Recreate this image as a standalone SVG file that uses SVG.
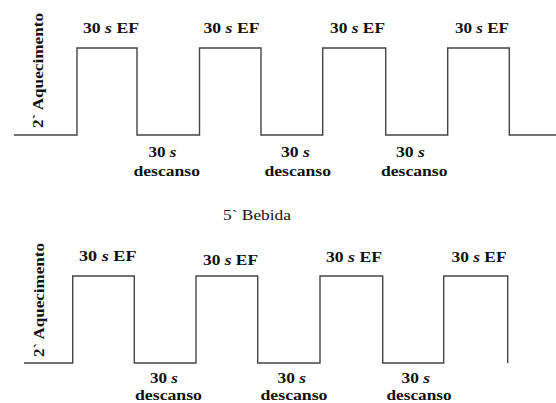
<svg xmlns="http://www.w3.org/2000/svg" width="556" height="403" viewBox="0 0 556 403">
  <style>
    .wave { fill: none; stroke: #444; stroke-width: 1.4; }
    .lbl { font-family: 'Liberation Serif', 'Times New Roman', serif; font-size: 14px; font-weight: bold; fill: #111; }
    .reg { font-weight: normal; }
    .it { font-style: italic; }
  </style>
  <rect width="556" height="403" fill="#fff"/>

  <!-- connectors: the two square-wave timelines -->
  <g id="connectors">
    <path id="wave-top" class="wave" d="M14,135 H77 V48 H137 V135 H199.5 V48 H261 V135 H322.7 V48 H385.7 V135 H447.7 V48 H509.3 V135 H556"/>
    <path id="wave-bottom" class="wave" d="M24,363 H72.7 V276 H134.3 V363 H196 V276 H257.7 V363 H320 V276 H382.7 V363 H443.7 V276 H507.7 V363"/>
  </g>

  <!-- first session -->
  <g id="warmup-1">
    <text class="lbl" transform="translate(43,128) rotate(-90)" textLength="115" lengthAdjust="spacingAndGlyphs">2` Aquecimento</text>
  </g>
  <g id="ef-1a"><text class="lbl" x="83" y="33" textLength="56" lengthAdjust="spacingAndGlyphs">30 <tspan class="it">s</tspan> EF</text></g>
  <g id="ef-1b"><text class="lbl" x="203.5" y="33" textLength="56" lengthAdjust="spacingAndGlyphs">30 <tspan class="it">s</tspan> EF</text></g>
  <g id="ef-1c"><text class="lbl" x="330" y="33" textLength="55" lengthAdjust="spacingAndGlyphs">30 <tspan class="it">s</tspan> EF</text></g>
  <g id="ef-1d"><text class="lbl" x="455" y="33" textLength="54" lengthAdjust="spacingAndGlyphs">30 <tspan class="it">s</tspan> EF</text></g>

  <g id="rest-1a">
    <text class="lbl" x="148.5" y="157" textLength="28" lengthAdjust="spacingAndGlyphs">30 <tspan class="it">s</tspan></text>
    <text class="lbl" x="133.5" y="175.5" textLength="66.5" lengthAdjust="spacingAndGlyphs">descanso</text>
  </g>
  <g id="rest-1b">
    <text class="lbl" x="281" y="157" textLength="29" lengthAdjust="spacingAndGlyphs">30 <tspan class="it">s</tspan></text>
    <text class="lbl" x="264.5" y="175.5" textLength="66.5" lengthAdjust="spacingAndGlyphs">descanso</text>
  </g>
  <g id="rest-1c">
    <text class="lbl" x="396" y="157" textLength="29" lengthAdjust="spacingAndGlyphs">30 <tspan class="it">s</tspan></text>
    <text class="lbl" x="381" y="175.5" textLength="66.5" lengthAdjust="spacingAndGlyphs">descanso</text>
  </g>

  <!-- break between sessions -->
  <g id="drink">
    <text class="lbl reg" x="223" y="220" textLength="68" lengthAdjust="spacingAndGlyphs">5` Bebida</text>
  </g>

  <!-- second session -->
  <g id="warmup-2">
    <text class="lbl" transform="translate(44,357) rotate(-90)" textLength="114" lengthAdjust="spacingAndGlyphs">2` Aquecimento</text>
  </g>
  <g id="ef-2a"><text class="lbl" x="79" y="261" textLength="57.5" lengthAdjust="spacingAndGlyphs">30 <tspan class="it">s</tspan> EF</text></g>
  <g id="ef-2b"><text class="lbl" x="203" y="265" textLength="55" lengthAdjust="spacingAndGlyphs">30 <tspan class="it">s</tspan> EF</text></g>
  <g id="ef-2c"><text class="lbl" x="326" y="261.5" textLength="56" lengthAdjust="spacingAndGlyphs">30 <tspan class="it">s</tspan> EF</text></g>
  <g id="ef-2d"><text class="lbl" x="451.5" y="261.5" textLength="55" lengthAdjust="spacingAndGlyphs">30 <tspan class="it">s</tspan> EF</text></g>

  <g id="rest-2a">
    <text class="lbl" x="150" y="383" textLength="28" lengthAdjust="spacingAndGlyphs">30 <tspan class="it">s</tspan></text>
    <text class="lbl" x="135" y="400" textLength="67" lengthAdjust="spacingAndGlyphs">descanso</text>
  </g>
  <g id="rest-2b">
    <text class="lbl" x="277.5" y="383" textLength="28.5" lengthAdjust="spacingAndGlyphs">30 <tspan class="it">s</tspan></text>
    <text class="lbl" x="260.5" y="400" textLength="67" lengthAdjust="spacingAndGlyphs">descanso</text>
  </g>
  <g id="rest-2c">
    <text class="lbl" x="401.5" y="383" textLength="28.5" lengthAdjust="spacingAndGlyphs">30 <tspan class="it">s</tspan></text>
    <text class="lbl" x="386.5" y="400" textLength="65" lengthAdjust="spacingAndGlyphs">descanso</text>
  </g>
</svg>
